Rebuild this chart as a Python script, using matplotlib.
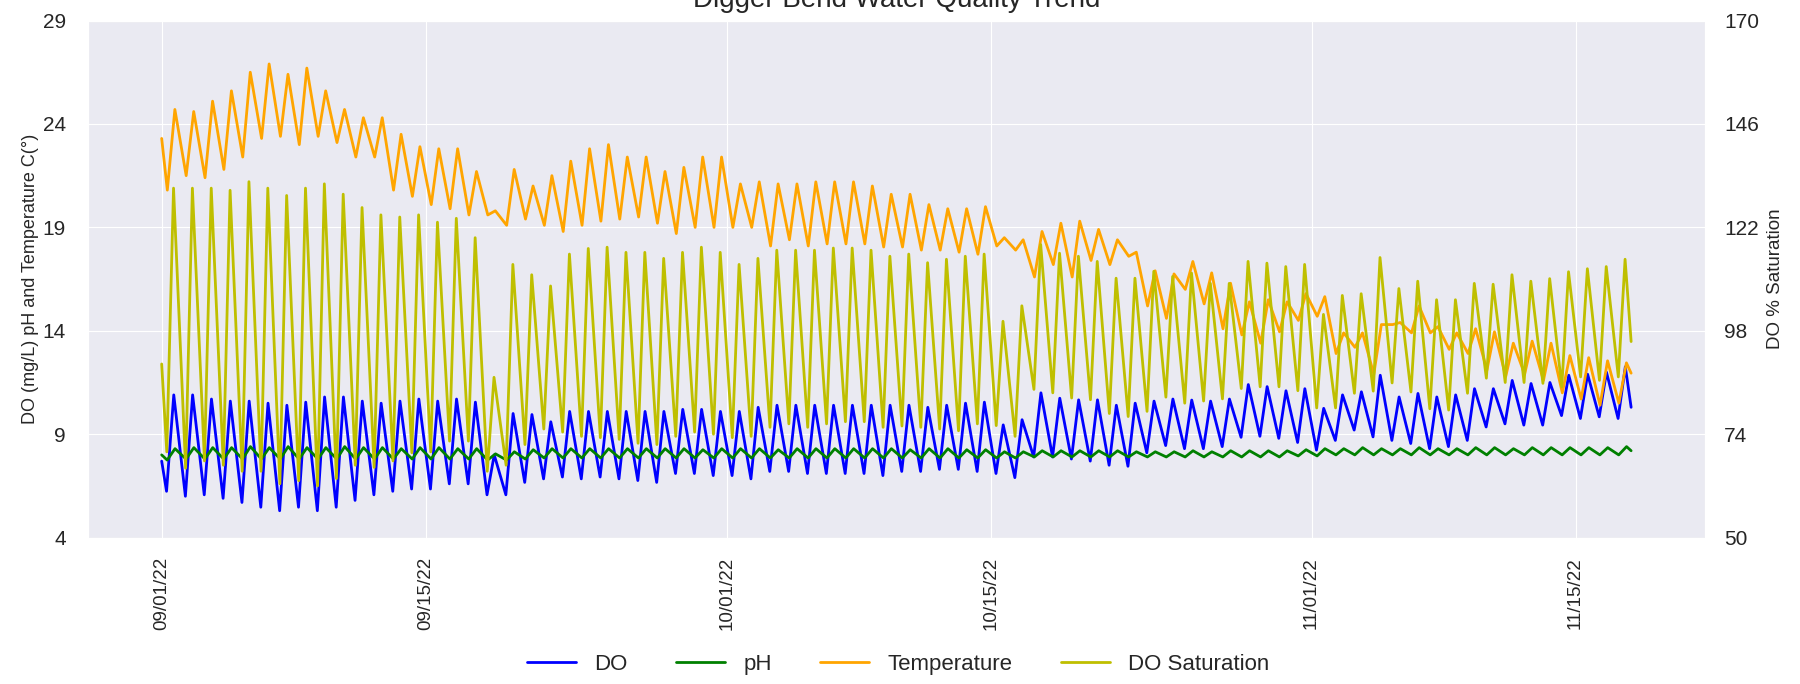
import numpy as np
import pandas as pd
import matplotlib
matplotlib.use("Agg")
import matplotlib.pyplot as plt
import matplotlib.dates as mdates
import seaborn as sns

# ---- daily readings (one low + one high per day, starting 09/01/22) ----
start = pd.Timestamp("2022-09-01")

do_lo = [6.24, 6.0, 6.07, 5.9, 5.7, 5.47, 5.3, 5.47, 5.3, 5.47,
         5.8, 6.07, 6.24, 6.35, 6.35, 6.6, 6.6, 6.07, 6.07, 6.67,
         6.84, 6.93, 6.84, 6.93, 6.84, 6.76, 6.67, 7.1, 7.1, 7.0,
         7.0, 6.84, 7.2, 7.2, 7.1, 7.1, 7.1, 7.1, 7.0, 7.2,
         7.2, 7.3, 7.3, 7.2, 7.1, 6.9, 7.9, 7.9, 7.8, 7.7,
         7.5, 7.45, 8.1, 8.45, 8.3, 8.3, 8.4, 8.85, 8.9, 8.8,
         8.6, 8.23, 8.7, 9.2, 8.87, 8.7, 8.55, 8.3, 8.4, 8.7,
         9.35, 9.5, 9.44, 9.44, 9.9, 9.76, 9.84, 9.76]
do_hi = [10.9, 10.9, 10.7, 10.6, 10.6, 10.5, 10.4, 10.55, 10.8, 10.8,
         10.6, 10.5, 10.6, 10.7, 10.6, 10.7, 10.55, 8.0, 10.0, 9.95,
         9.6, 10.1, 10.1, 10.1, 10.1, 10.1, 10.1, 10.2, 10.2, 10.1,
         10.1, 10.3, 10.4, 10.4, 10.4, 10.4, 10.4, 10.4, 10.4, 10.4,
         10.3, 10.4, 10.5, 10.55, 9.45, 9.7, 11.0, 10.74, 10.66, 10.66,
         10.4, 10.5, 10.6, 10.7, 10.65, 10.6, 10.7, 11.4, 11.3, 11.1,
         11.2, 10.25, 10.9, 11.05, 11.85, 10.8, 10.97, 10.8, 10.9, 11.2,
         11.2, 11.6, 11.45, 11.5, 11.85, 11.9, 12.0, 12.26]

ph_lo = [7.75, 7.80, 7.80, 7.80, 7.80, 7.80, 7.80, 7.80, 7.80, 7.80,
         7.80, 7.80, 7.80, 7.80, 7.80, 7.80, 7.80, 7.75, 7.75, 7.80,
         7.85, 7.85, 7.85, 7.85, 7.85, 7.85, 7.85, 7.85, 7.85, 7.85,
         7.85, 7.85, 7.85, 7.85, 7.85, 7.85, 7.85, 7.85, 7.85, 7.85,
         7.85, 7.85, 7.85, 7.85, 7.85, 7.85, 7.90, 7.90, 7.90, 7.90,
         7.90, 7.90, 7.90, 7.90, 7.90, 7.90, 7.90, 7.90, 7.90, 7.90,
         7.95, 7.95, 8.00, 8.00, 8.00, 8.00, 8.00, 8.00, 8.00, 8.00,
         8.00, 8.00, 8.00, 8.00, 8.00, 8.00, 8.00, 8.00]
ph_hi = [8.30, 8.35, 8.35, 8.35, 8.40, 8.35, 8.40, 8.35, 8.35, 8.40,
         8.35, 8.35, 8.30, 8.35, 8.35, 8.30, 8.30, 8.05, 8.15, 8.25,
         8.30, 8.30, 8.30, 8.30, 8.30, 8.30, 8.30, 8.30, 8.25, 8.30,
         8.30, 8.30, 8.25, 8.30, 8.30, 8.30, 8.30, 8.30, 8.30, 8.25,
         8.30, 8.30, 8.25, 8.25, 8.15, 8.15, 8.20, 8.20, 8.20, 8.20,
         8.20, 8.15, 8.15, 8.15, 8.20, 8.15, 8.20, 8.20, 8.20, 8.20,
         8.25, 8.30, 8.30, 8.35, 8.30, 8.30, 8.35, 8.30, 8.30, 8.35,
         8.35, 8.30, 8.35, 8.35, 8.35, 8.35, 8.35, 8.40]

temp_lo = [20.8, 21.5, 21.4, 21.8, 22.4, 23.3, 23.4, 23.0, 23.4, 23.1,
           22.4, 22.4, 20.8, 20.5, 20.1, 19.9, 19.6, 19.6, 19.1, 19.4,
           19.1, 18.8, 19.1, 19.3, 19.4, 19.5, 19.2, 18.7, 19.0, 19.0,
           19.0, 19.0, 18.1, 18.4, 18.1, 18.2, 18.2, 18.2, 18.05, 18.05,
           17.9, 17.9, 17.8, 17.7, 18.1, 17.9, 16.6, 17.2, 16.6, 17.4,
           17.2, 17.6, 15.2, 14.6, 16.0, 15.3, 14.1, 13.8, 13.4, 13.95,
           14.5, 14.7, 12.9, 13.2, 11.9, 14.3, 13.9, 13.9, 13.1, 12.9,
           12.1, 11.8, 11.9, 11.6, 11.0, 10.7, 10.4, 10.5]
temp_hi = [24.7, 24.6, 25.1, 25.6, 26.5, 26.9, 26.4, 26.7, 25.6, 24.7,
           24.3, 24.3, 23.5, 22.9, 22.8, 22.8, 21.7, 19.8, 21.8, 21.0,
           21.5, 22.2, 22.8, 23.0, 22.4, 22.4, 21.7, 21.9, 22.4, 22.4,
           21.1, 21.2, 21.1, 21.1, 21.2, 21.2, 21.2, 21.0, 20.6, 20.6,
           20.1, 19.9, 19.9, 20.0, 18.5, 18.4, 18.8, 19.2, 19.3, 18.9,
           18.4, 17.8, 16.9, 16.75, 17.35, 16.8, 16.3, 15.4, 15.5, 15.4,
           15.8, 15.65, 13.9, 13.9, 14.3, 14.4, 15.2, 14.2, 13.9, 14.1,
           13.95, 13.4, 13.5, 13.4, 12.8, 12.7, 12.55, 12.45]

sat_lo = [69.9, 66.1, 67.8, 66.8, 65.4, 65.4, 62.5, 63.2, 62.0, 63.7,
          66.8, 66.3, 67.8, 69.7, 69.9, 72.4, 72.4, 65.4, 66.8, 71.6,
          75.2, 74.5, 73.5, 73.2, 72.8, 71.9, 71.6, 73.5, 74.5, 74.0,
          73.2, 73.5, 75.6, 76.4, 75.6, 76.4, 76.9, 76.9, 75.6, 75.9,
          75.6, 75.2, 74.8, 76.4, 76.0, 73.5, 84.4, 83.6, 82.4, 82.0,
          78.8, 78.1, 79.3, 82.6, 81.2, 81.7, 82.2, 84.6, 85.0, 85.0,
          84.1, 80.1, 80.1, 83.5, 84.0, 85.9, 83.8, 79.9, 79.6, 83.5,
          87.0, 86.0, 86.0, 85.8, 85.0, 87.3, 86.5, 87.3]
sat_hi = [131.1, 131.1, 131.1, 130.6, 132.6, 131.1, 129.4, 131.1, 132.1, 129.7,
          126.6, 124.9, 124.4, 124.9, 123.2, 124.1, 119.6, 87.2, 113.4, 111.0,
          108.4, 115.8, 117.1, 117.4, 116.2, 116.2, 114.8, 116.2, 117.4, 116.2,
          113.4, 114.8, 116.7, 116.7, 116.7, 117.2, 117.2, 116.7, 115.3, 115.8,
          113.8, 114.6, 115.3, 115.8, 100.2, 103.8, 118.0, 116.0, 115.3, 114.1,
          110.2, 110.2, 111.8, 110.6, 111.4, 109.0, 109.0, 114.1, 113.7, 112.9,
          113.4, 101.8, 106.2, 106.6, 115.0, 107.8, 109.5, 105.2, 105.2, 109.0,
          108.8, 111.0, 109.5, 110.1, 111.7, 112.4, 112.9, 114.6]

# first reading (09/01 00:00) and last reading (11/17 late evening)
do_first, do_last = 7.7, 10.3
ph_first, ph_last = 8.0, 8.2
temp_first, temp_last = 23.3, 11.95
sat_first, sat_last = 90.3, 95.5
last_hour = 22.8


def build(lo, hi, lo_hour, hi_hour, first, last):
    t = [start]
    v = [first]
    for d in range(len(lo)):
        t.append(start + pd.Timedelta(days=d, hours=lo_hour))
        v.append(lo[d])
        t.append(start + pd.Timedelta(days=d, hours=hi_hour))
        v.append(hi[d])
    t.append(start + pd.Timedelta(days=len(lo) - 1, hours=last_hour))
    v.append(last)
    return pd.to_datetime(t), np.array(v)


t_do, v_do = build(do_lo, do_hi, 6.2, 15.4, do_first, do_last)
t_ph, v_ph = build(ph_lo, ph_hi, 7.0, 17.0, ph_first, ph_last)
t_temp, v_temp = build(temp_lo, temp_hi, 7.2, 16.8, temp_first, temp_last)
t_sat, v_sat = build(sat_lo, sat_hi, 6.5, 15.1, sat_first, sat_last)

# ---- PLOT ----
sns.set_style("darkgrid")
plt.rcParams['font.family'] = ['Liberation Sans', 'DejaVu Sans']
txt = '.15'
lw = 2.0

fig, ax = plt.subplots(figsize=(18, 6.84), dpi=100)
fig.subplots_adjust(left=0.049, right=0.947, bottom=0.214, top=0.970)

l1, = ax.plot(t_do, v_do, color='blue', lw=lw, solid_joinstyle='round', label='DO')
l2, = ax.plot(t_ph, v_ph, color='green', lw=lw, solid_joinstyle='round', label='pH')
l3, = ax.plot(t_temp, v_temp, color='orange', lw=lw, solid_joinstyle='round', label='Temperature')

ax2 = ax.twinx()
l4, = ax2.plot(t_sat, v_sat, color='y', lw=lw, solid_joinstyle='round', label='DO Saturation')
ax2.grid(False)

ax.set_ylim(4, 29)
ax.set_yticks(np.arange(4, 30, 5))
ax2.set_ylim(50, 170)
ax2.set_yticks(np.linspace(50, 170, 6))
ax2.set_yticklabels([f"{int(v)}" for v in np.linspace(50, 170, 6)])

ax.xaxis.set_major_locator(mdates.DayLocator(bymonthday=[1, 15]))
ax.xaxis.set_major_formatter(mdates.DateFormatter('%m/%d/%y'))
ax.tick_params(axis='x', labelrotation=90, labelsize=13.5, length=0, pad=14, colors=txt)
ax.tick_params(axis='y', labelsize=15, length=0, pad=16, colors=txt)
ax2.tick_params(axis='y', labelsize=15, length=0, pad=14, colors=txt)

ax.set_ylabel("DO (mg/L) pH and Temperature C(°)", fontsize=13, color=txt)
ax2.set_ylabel("DO % Saturation", fontsize=13.5, color=txt)
ax.yaxis.set_label_coords(-0.0305, 0.5)
ax2.yaxis.set_label_coords(1.0383, 0.5)

ax.set_title("Digger Bend Water Quality Trend", fontsize=20, color=txt, pad=9.6)

fig.legend([l1, l2, l3, l4], ['DO', 'pH', 'Temperature', 'DO Saturation'],
           loc='center', bbox_to_anchor=(0.499, 0.029), ncol=4, frameon=False,
           fontsize=16, handlelength=2.2, columnspacing=2.2)

fig.savefig("out.png", dpi=100)
